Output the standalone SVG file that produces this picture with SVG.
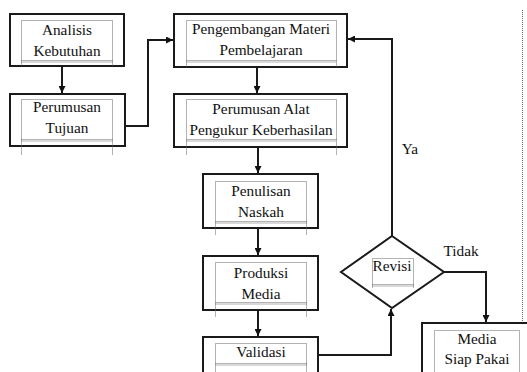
<svg xmlns="http://www.w3.org/2000/svg" width="527" height="372" viewBox="0 0 527 372">
<defs>
<marker id="ah" viewBox="0 0 10 10" refX="10" refY="5" markerWidth="7" markerHeight="7" markerUnits="userSpaceOnUse" orient="auto">
<path d="M0,0 L10,5 L0,10 z" fill="#111"/>
</marker>
</defs>
<style>
.box{fill:#fff;stroke:#1a1a1a;stroke-width:2}
.dot{fill:none;stroke:#666;stroke-width:1;stroke-dasharray:1 1}
.t{font-size:15.3px;fill:#111;text-anchor:middle}
.c{fill:none;stroke:#1a1a1a;stroke-width:2}
</style>
<rect width="527" height="372" fill="#fff"/>
<line class="dot" x1="522.5" y1="10" x2="522.5" y2="323"/>
<g font-family="'Liberation Serif', 'Times New Roman', serif">
<g id="connectors">
<path class="c" d="M62,67 V93" marker-end="url(#ah)"/>
<path class="c" d="M125,126 H148 V40 H173" marker-end="url(#ah)"/>
<path class="c" d="M257,67 V93" marker-end="url(#ah)"/>
<path class="c" d="M258,147 V173" marker-end="url(#ah)"/>
<path class="c" d="M258,228 V255" marker-end="url(#ah)"/>
<path class="c" d="M258,310 V336" marker-end="url(#ah)"/>
<path class="c" d="M318,355 H391 V309" marker-end="url(#ah)"/>
<path class="c" d="M392,236 V39 H348" marker-end="url(#ah)"/>
<path class="c" d="M444,272 H486 V322" marker-end="url(#ah)"/>
<text class="t" x="410" y="154">Ya</text>
<text class="t" x="461" y="256">Tidak</text>
</g>
<g id="n1">
<rect class="box" x="10" y="14" width="114" height="52"/>
<rect class="dot" x="21.5" y="20.5" width="91" height="40"/>
<path class="dot" d="M21.5,60.5 V66 M112.5,60.5 V66 M21.5,62 H112.5"/>
<text class="t" x="67" y="35">Analisis</text>
<text class="t" x="67" y="56">Kebutuhan</text>
</g>
<g id="n2">
<rect class="box" x="10" y="94" width="115" height="52"/>
<rect class="dot" x="21.5" y="99.5" width="91" height="40"/>
<path class="dot" d="M21.5,139.5 V155 M112.5,139.5 V155 M21.5,141 H112.5"/>
<text class="t" x="67" y="112">Perumusan</text>
<text class="t" x="67" y="133">Tujuan</text>
</g>
<g id="n3">
<rect class="box" x="174" y="14" width="173" height="53"/>
<rect class="dot" x="186.5" y="20.5" width="150" height="40"/>
<path class="dot" d="M186.5,60.5 V67 M336.5,60.5 V67 M186.5,62 H336.5"/>
<text class="t" x="261" y="34">Pengembangan Materi</text>
<text class="t" x="261" y="55">Pembelajaran</text>
</g>
<g id="n4">
<rect class="box" x="174" y="94" width="173" height="53"/>
<rect class="dot" x="186.5" y="99.5" width="150" height="40"/>
<path class="dot" d="M186.5,139.5 V155 M336.5,139.5 V155 M186.5,141 H336.5"/>
<text class="t" x="261" y="114">Perumusan Alat</text>
<text class="t" x="261" y="135">Pengukur Keberhasilan</text>
</g>
<g id="n5">
<rect class="box" x="203" y="174" width="115" height="54"/>
<rect class="dot" x="215.5" y="181.5" width="91" height="40"/>
<path class="dot" d="M215.5,221.5 V235 M306.5,221.5 V235 M215.5,223 H306.5"/>
<text class="t" x="261" y="196">Penulisan</text>
<text class="t" x="261" y="217">Naskah</text>
</g>
<g id="n6">
<rect class="box" x="203" y="256" width="115" height="54"/>
<rect class="dot" x="215.5" y="262.5" width="91" height="40"/>
<path class="dot" d="M215.5,302.5 V317 M306.5,302.5 V317 M215.5,304 H306.5"/>
<text class="t" x="261" y="278">Produksi</text>
<text class="t" x="261" y="299">Media</text>
</g>
<g id="n7">
<rect class="box" x="203" y="337" width="115" height="45"/>
<rect class="dot" x="215.5" y="343.5" width="91" height="20"/>
<path class="dot" d="M215.5,363.5 V372 M306.5,363.5 V372 M215.5,365 H306.5"/>
<text class="t" x="261" y="357">Validasi</text>
</g>
<g id="n8">
<path class="box" d="M392,236 L444,272 L392,308 L341,272 Z"/>
<rect class="dot" x="372.5" y="258.5" width="41" height="26"/>
<path class="dot" d="M372.5,284.5 V288 M413.5,284.5 V288 M372.5,286 H413.5"/>
<text class="t" x="392" y="271">Revisi</text>
</g>
<g id="n9">
<rect class="box" x="422" y="323" width="115" height="60"/>
<rect class="dot" x="434.5" y="330.5" width="85" height="45"/>
<text class="t" x="477" y="344">Media</text>
<text class="t" x="477" y="364">Siap Pakai</text>
</g>
</g>
</svg>
